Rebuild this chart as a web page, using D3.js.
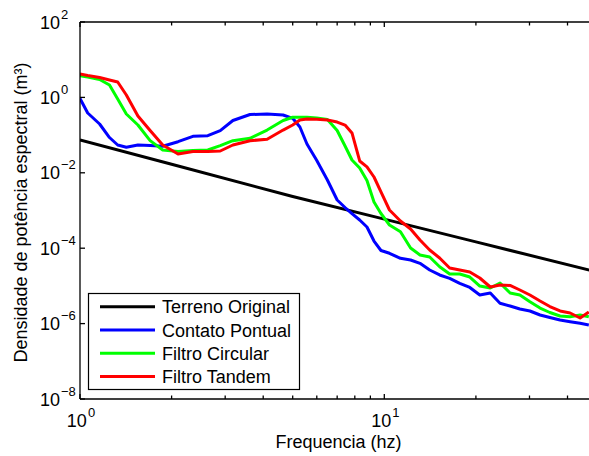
<!DOCTYPE html>
<html>
<head>
<meta charset="utf-8">
<script src="https://cdnjs.cloudflare.com/ajax/libs/d3/7.8.5/d3.min.js"></script>
<style>
body { margin: 0; background: #fff; }
text { font-family: "Liberation Sans", Arial, sans-serif; }
</style>
</head>
<body>
<script>
// frequency bins (hz)
var freq = [1, 1.06, 1.16, 1.25, 1.33, 1.42, 1.55, 1.7, 1.87, 2.1,
    2.35, 2.63, 2.89, 3.18, 3.62, 4.12, 4.65, 5.0, 5.28, 5.57,
    6.0, 6.5, 7.0, 7.43, 7.83, 8.3, 8.77, 9.25, 9.75, 10.4,
    11.3, 12.2, 13.1, 14.1, 15.2, 16.4, 17.7, 19.1, 20.6, 22.3,
    24, 25.9, 27.9, 30.1, 32.5, 35, 37.8, 40.8, 44, 47];

var contatoPontual = [0.935, 0.386, 0.197, 0.0863, 0.0546, 0.0474, 0.0546, 0.0530, 0.0505, 0.0668,
    0.0929, 0.0964, 0.131, 0.244, 0.352, 0.363, 0.341, 0.279, 0.164, 0.0581,
    0.0212, 0.00644, 0.00190, 0.00120, 8.32e-4, 5.60e-4, 3.65e-4, 1.55e-4, 8.69e-5, 7.33e-5,
    5.40e-5, 4.86e-5, 3.97e-5, 2.64e-5, 1.95e-5, 1.59e-5, 1.17e-5, 9.08e-6, 5.74e-6, 6.49e-6,
    3.45e-6, 2.93e-6, 2.44e-6, 2.16e-6, 1.69e-6, 1.45e-6, 1.24e-6, 1.12e-6, 1.02e-6, 9.18e-7];

var filtroCircular = [3.77, 3.48, 2.99, 2.13, 0.907, 0.363, 0.185, 0.0715, 0.0403, 0.0367,
    0.0391, 0.0403, 0.0526, 0.0710, 0.0822, 0.136, 0.244, 0.297, 0.297, 0.297,
    0.284, 0.259, 0.132, 0.0514, 0.0219, 0.0134, 0.00625, 0.00168, 8.32e-4, 4.12e-4,
    2.74e-4, 1.01e-4, 6.61e-5, 5.85e-5, 3.23e-5, 2.07e-5, 2.07e-5, 1.72e-5, 9.93e-6, 8.79e-6,
    1.19e-5, 6.49e-6, 5.74e-6, 3.81e-6, 2.59e-6, 1.97e-6, 1.59e-6, 1.52e-6, 1.69e-6, 1.52e-6];

var filtroTandem = [4.18, 3.81, 3.37, 2.90, 2.56, 1.16, 0.321, 0.132, 0.0546, 0.0315,
    0.0367, 0.0367, 0.0379, 0.0546, 0.0710, 0.0774, 0.136, 0.185, 0.252, 0.267,
    0.262, 0.252, 0.222, 0.185, 0.114, 0.0206, 0.0143, 0.00774, 0.00310, 0.00103,
    5.26e-4, 3.23e-4, 1.65e-4, 8.95e-5, 5.50e-5, 2.99e-5, 2.64e-5, 2.34e-5, 1.62e-5, 9.35e-6,
    1.06e-5, 1.03e-5, 7.78e-6, 5.74e-6, 3.97e-6, 2.84e-6, 2.16e-6, 1.91e-6, 1.41e-6, 2.03e-6];

// straight reference line
var terrenoFreq = [1, 2, 5, 10, 20, 50];
var terrenoOriginal = [0.074, 0.0169, 0.00235, 5.9e-4, 1.47e-4, 2.34e-5];

var seriesNames = ["Terreno Original", "Contato Pontual", "Filtro Circular", "Filtro Tandem"];
var seriesColors = ["#000000", "#0000ff", "#00ff00", "#ff0000"];

var xMajor = [1, 10];
var xMinor = [2, 3, 4, 5, 6, 7, 8, 9, 20, 30, 40];
var yTickExp = [2, 0, -2, -4, -6, -8];

var width = 589, height = 456;
var margin = {top: 22, left: 80, bottom: 57, right: -8};

var x = d3.scaleLog().domain([1, 50]).range([margin.left, width - margin.right]);
var y = d3.scaleLog().domain([1e-8, 1e2]).range([height - margin.bottom, margin.top]);

var svg = d3.select("body").append("svg")
    .attr("width", width)
    .attr("height", height);

svg.append("clipPath").attr("id", "plot")
    .append("rect")
    .attr("x", x(1)).attr("y", y(1e2))
    .attr("width", x(50) - x(1)).attr("height", y(1e-8) - y(1e2));

var line = d3.line()
    .x(function (d) { return x(d[0]); })
    .y(function (d) { return y(d[1]); });

var seriesData = [
    d3.zip(terrenoFreq, terrenoOriginal),
    d3.zip(freq, contatoPontual),
    d3.zip(freq, filtroCircular),
    d3.zip(freq, filtroTandem)
];

var g = svg.append("g").attr("clip-path", "url(#plot)");
seriesData.forEach(function (data, i) {
    g.append("path")
        .attr("d", line(data))
        .attr("fill", "none")
        .attr("stroke", seriesColors[i])
        .attr("stroke-width", 3)
        .attr("stroke-linejoin", "round");
});

// axes box (left, top, bottom)
var axisG = svg.append("g").attr("stroke", "#000").attr("stroke-width", 1.3);
var x0 = x(1), x1 = x(50), yTop = y(1e2), yBot = y(1e-8);
axisG.append("line").attr("x1", x0).attr("x2", x0).attr("y1", yTop).attr("y2", yBot);
axisG.append("line").attr("x1", x0).attr("x2", x1).attr("y1", yTop).attr("y2", yTop);
axisG.append("line").attr("x1", x0).attr("x2", x1).attr("y1", yBot).attr("y2", yBot);

// x ticks, bottom and top, pointing inward
xMajor.concat(xMinor).forEach(function (v) {
    var len = xMajor.indexOf(v) >= 0 ? 5 : 3.5;
    axisG.append("line").attr("x1", x(v)).attr("x2", x(v)).attr("y1", yBot).attr("y2", yBot - len);
    axisG.append("line").attr("x1", x(v)).attr("x2", x(v)).attr("y1", yTop).attr("y2", yTop + len);
});

// y ticks
yTickExp.forEach(function (e) {
    var yy = y(Math.pow(10, e));
    axisG.append("line").attr("x1", x0).attr("x2", x0 + 5).attr("y1", yy).attr("y2", yy);
});

function expLabel(e) {
    return e < 0 ? "\u2212" + (-e) : String(e);
}

// y tick labels
yTickExp.forEach(function (e) {
    var yy = y(Math.pow(10, e));
    var t = svg.append("text")
        .attr("x", 40)
        .attr("y", yy + 6.5)
        .attr("font-size", 18)
        .attr("fill", "#000");
    t.append("tspan").text("10");
    t.append("tspan").attr("dy", -10).attr("dx", 1).attr("font-size", 13).text(expLabel(e));
});

// x tick labels
xMajor.forEach(function (v) {
    var e = Math.round(Math.log10(v));
    var t = svg.append("text")
        .attr("x", x(v) + 1)
        .attr("y", 427)
        .attr("text-anchor", "middle")
        .attr("font-size", 18)
        .attr("fill", "#000");
    t.append("tspan").text("10");
    t.append("tspan").attr("dy", -10).attr("dx", 1).attr("font-size", 13).text(expLabel(e));
});

// axis titles
svg.append("text")
    .attr("x", (x0 + x1) / 2)
    .attr("y", 448)
    .attr("text-anchor", "middle")
    .attr("font-size", 18)
    .text("Frequencia (hz)");

svg.append("text")
    .attr("transform", "translate(27," + ((yTop + yBot) / 2 + 2) + ") rotate(-90)")
    .attr("text-anchor", "middle")
    .attr("font-size", 18)
    .text("Densidade de potência espectral (m³)");

// legend
var legend = svg.append("g");
legend.append("rect")
    .attr("x", 88.5).attr("y", 293.5)
    .attr("width", 211).attr("height", 96)
    .attr("fill", "#fff")
    .attr("stroke", "#000")
    .attr("stroke-width", 1.2);

seriesNames.forEach(function (name, i) {
    var yy = 306.7 + i * 23.3;
    legend.append("line")
        .attr("x1", 100).attr("x2", 155)
        .attr("y1", yy).attr("y2", yy)
        .attr("stroke", seriesColors[i])
        .attr("stroke-width", 3);
    legend.append("text")
        .attr("x", 162)
        .attr("y", yy + 6.5)
        .attr("font-size", 18)
        .text(name);
});
</script>
</body>
</html>
